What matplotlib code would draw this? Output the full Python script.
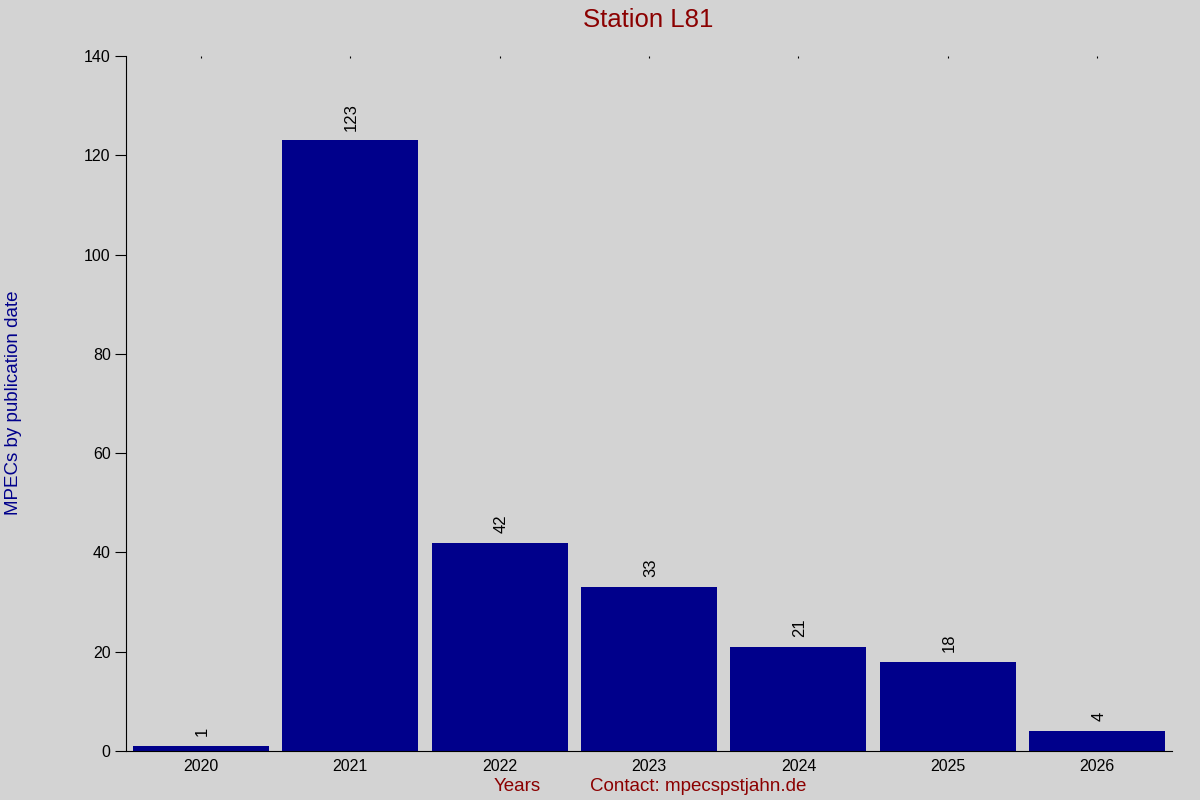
import numpy as np
import matplotlib.pyplot as plt

plt.rcParams['font.family'] = ['Liberation Sans', 'DejaVu Sans']

# Data
years = ['2020', '2021', '2022', '2023', '2024', '2025', '2026']
counts = [1, 123, 42, 33, 21, 18, 4]

bg = '#d3d3d3'
fig = plt.figure(figsize=(12, 8), dpi=100, facecolor=bg)
ax = fig.add_axes([0.105, 0.06125, 0.8717, 0.86875], facecolor=bg)

x = np.arange(len(years))
ax.bar(x, counts, width=0.91, color='#00008b')

for xi, c in zip(x, counts):
    ax.annotate(str(c), (xi, c), xytext=(1, 7), textcoords='offset points',
                rotation=90, ha='center', va='bottom', fontsize=12, color='black')

ax.set_xlim(-0.5, len(years) - 0.5)
ax.set_ylim(0, 140)
ax.set_yticks(np.arange(0, 141, 20))
ax.set_xticks(x)
ax.set_xticklabels(years)

for s in ['top', 'right']:
    ax.spines[s].set_visible(False)
ax.tick_params(axis='y', length=8, labelsize=11.5, pad=3)
ax.tick_params(axis='x', bottom=False, top=True, direction='in', length=1.5,
               labelsize=11.5, pad=6)

fig.text(0.54, 0.975, 'Station L81', ha='center', va='center', fontsize=18.5, color='#8b0000')
fig.text(0.011, 0.496, 'MPECs by publication date', rotation=90, ha='center', va='center',
         fontsize=13.5, color='#00008b')
fig.text(0.431, 0.017, 'Years', ha='center', va='center', fontsize=13.5, color='#8b0000')
fig.text(0.582, 0.017, 'Contact: mpecspstjahn.de', ha='center', va='center', fontsize=13.5,
         color='#8b0000')

fig.savefig('out.png', dpi=100, facecolor=bg)
